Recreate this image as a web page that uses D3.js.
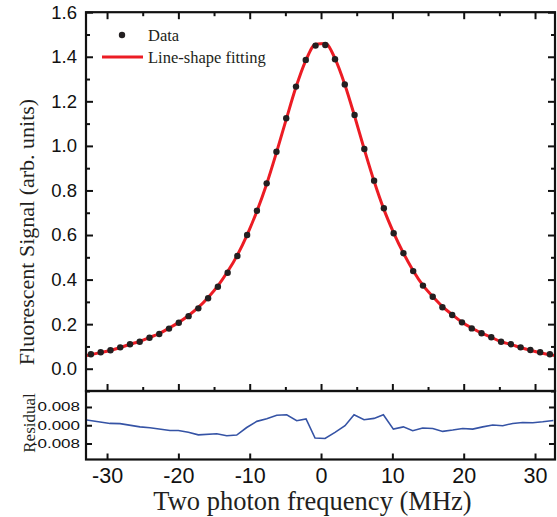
<!DOCTYPE html>
<meta charset="utf-8">
<script src="https://d3js.org/d3.v7.min.js"></script>
<style>
  body { margin: 0; background: #fff; }
</style>
<div id="chart"></div>
<script>

// data
var freq = [-32.26, -30.89, -29.52, -28.15, -26.78, -25.42, -24.05, -22.68, -21.31, -19.94,
            -18.57, -17.20, -15.83, -14.46, -13.09, -11.73, -10.36, -8.99, -7.62, -6.25,
            -4.88, -3.51, -2.14, -0.77, 0.60, 1.96, 3.33, 4.70, 6.07, 7.44,
            8.81, 10.18, 11.55, 12.92, 14.29, 15.66, 17.02, 18.39, 19.76, 21.13,
            22.50, 23.87, 25.24, 26.61, 27.98, 29.35, 30.72, 32.08]
var signal = [0.065, 0.074, 0.083, 0.096, 0.110, 0.121, 0.139, 0.156, 0.180, 0.206,
              0.236, 0.271, 0.316, 0.368, 0.431, 0.506, 0.600, 0.709, 0.832, 0.974,
              1.124, 1.266, 1.386, 1.450, 1.453, 1.389, 1.276, 1.139, 0.986, 0.844,
              0.720, 0.608, 0.518, 0.438, 0.373, 0.323, 0.276, 0.241, 0.208, 0.181,
              0.159, 0.141, 0.121, 0.110, 0.096, 0.084, 0.074, 0.065]

var fitFreq = [-33].concat(freq, [33])
var fitSignal = [0.059, 0.063, 0.073, 0.082, 0.095, 0.110, 0.122, 0.140, 0.158, 0.182, 0.208,
                 0.239, 0.275, 0.320, 0.372, 0.436, 0.510, 0.601, 0.707, 0.829, 0.970,
                 1.119, 1.264, 1.383, 1.456, 1.459, 1.392, 1.276, 1.134, 0.984, 0.841,
                 0.715, 0.610, 0.519, 0.440, 0.374, 0.324, 0.279, 0.243, 0.209, 0.183,
                 0.160, 0.141, 0.121, 0.109, 0.095, 0.083, 0.072, 0.063, 0.059]

var residFreq = [-32.85, -29.58, -28.18, -25.38, -23.98, -21.18, -20.0, -18.6, -17.2, -14.62,
                 -13.22, -11.82, -10.42, -9.01, -7.61, -6.21, -4.81, -3.41, -2.1, -0.84,
                 0.56, 1.96, 3.36, 4.63, 6.03, 7.43, 8.74, 10.14, 11.54, 12.85,
                 14.25, 15.66, 17.06, 18.46, 19.86, 21.26, 22.67, 24.07, 25.47, 26.87,
                 28.27, 29.68, 31.08, 32.57]
var residual = [0.0023, 0.0008, 0.0007, -0.0007, -0.0011, -0.0023, -0.0023, -0.0031, -0.0042, -0.0037,
                -0.0046, -0.0043, -0.0010, 0.0017, 0.0028, 0.0044, 0.0046, 0.0020, 0.0028, -0.0056,
                -0.0058, -0.0031, -0.0002, 0.0046, 0.0024, 0.0030, 0.0046, -0.0017, -0.0007, -0.0024,
                -0.0012, -0.0014, -0.0027, -0.0021, -0.0014, -0.0017, -0.0007, 0.0001, -0.0002, 0.0008,
                0.0012, 0.0011, 0.0015, 0.0021]

var xTicks = [-30, -20, -10, 0, 10, 20, 30]
var xMinor = [-25, -15, -5, 5, 15, 25]
var yTicks = [0, 0.2, 0.4, 0.6, 0.8, 1.0, 1.2, 1.4, 1.6]
var yMinor = [-0.1, 0.1, 0.3, 0.5, 0.7, 0.9, 1.1, 1.3, 1.5]
var residTicks = [-0.008, 0, 0.008]

// layout
var width = 557, height = 517
var plotLeft = 86, plotRight = 555, plotTop = 12.2, plotMid = 391, plotBottom = 459.5

var svg = d3.select("#chart").append("svg")
  .attr("width", width)
  .attr("height", height)

var x = d3.scaleLinear().domain([-32.95, 32.8]).range([plotLeft, plotRight])
var y = d3.scaleLinear().domain([-0.1, 1.6]).range([plotMid, plotTop])
var yr = d3.scaleLinear().domain([-0.015, 0.015]).range([plotBottom, plotMid])

svg.append("clipPath").attr("id", "clipMain")
  .append("rect").attr("x", plotLeft).attr("y", plotTop)
  .attr("width", plotRight - plotLeft).attr("height", plotMid - plotTop)
svg.append("clipPath").attr("id", "clipRes")
  .append("rect").attr("x", plotLeft).attr("y", plotMid)
  .attr("width", plotRight - plotLeft).attr("height", plotBottom - plotMid)

// helper for inward ticks
function drawAxis(axis, tx, ty) {
  var g = svg.append("g")
    .attr("transform", "translate(" + tx + "," + ty + ")")
    .call(axis)
  g.select(".domain").remove()
  g.selectAll("line").attr("stroke", "#111").attr("stroke-width", 2)
  return g
}

var noLabel = function() { return "" }

// main panel ticks
drawAxis(d3.axisTop(x).tickValues(xTicks).tickSize(-7).tickFormat(noLabel), 0, plotTop)
drawAxis(d3.axisTop(x).tickValues(xMinor).tickSize(-4).tickFormat(noLabel), 0, plotTop)
drawAxis(d3.axisBottom(x).tickValues(xTicks).tickSize(-7).tickFormat(noLabel), 0, plotMid)
drawAxis(d3.axisBottom(x).tickValues(xMinor).tickSize(-4).tickFormat(noLabel), 0, plotMid)
drawAxis(d3.axisRight(y).tickValues(yTicks).tickSize(-7).tickFormat(noLabel), plotRight, 0)
drawAxis(d3.axisRight(y).tickValues(yMinor).tickSize(-4).tickFormat(noLabel), plotRight, 0)
drawAxis(d3.axisLeft(y).tickValues(yMinor).tickSize(-4).tickFormat(noLabel), plotLeft, 0)

var yAxisG = drawAxis(d3.axisLeft(y).tickValues(yTicks).tickSize(-7).tickPadding(9)
  .tickFormat(function(d) { return d.toFixed(1) }), plotLeft, 0)
yAxisG.selectAll("text")
  .style("font-family", "'Liberation Sans', Arial, sans-serif")
  .style("font-size", "18.5px")
  .attr("fill", "#111")

// residual panel ticks
drawAxis(d3.axisRight(yr).tickValues(residTicks).tickSize(-6).tickFormat(noLabel), plotRight, 0)
drawAxis(d3.axisBottom(x).tickValues(xTicks).tickSize(-6).tickFormat(noLabel), 0, plotBottom)

var rAxisG = drawAxis(d3.axisLeft(yr).tickValues(residTicks).tickSize(-6).tickPadding(6)
  .tickFormat(function(d) { return d.toFixed(3) }), plotLeft, 0)
rAxisG.selectAll("text")
  .style("font-family", "'Liberation Sans', Arial, sans-serif")
  .style("font-size", "12.5px")
  .attr("fill", "#111")
  .attr("lengthAdjust", "spacingAndGlyphs")
  .attr("textLength", function() { return this.getComputedTextLength() * 1.36 })

var xAxisG = drawAxis(d3.axisBottom(x).tickValues(xTicks).tickSize(0).tickPadding(8.5)
  .tickFormat(function(d) { return String(d) }), 0, plotBottom)
xAxisG.selectAll("text")
  .style("font-family", "'Liberation Sans', Arial, sans-serif")
  .style("font-size", "21.5px")
  .attr("fill", "#111")

// fitted line
svg.append("path")
  .datum(fitFreq.map(function(f, i) { return [f, fitSignal[i]] }))
  .attr("clip-path", "url(#clipMain)")
  .attr("fill", "none")
  .attr("stroke", "#ec1c24")
  .attr("stroke-width", 3)
  .attr("d", d3.line()
    .x(function(d) { return x(d[0]) })
    .y(function(d) { return y(d[1]) })
    .curve(d3.curveMonotoneX))

// data points
svg.append("g")
  .selectAll("circle")
  .data(freq.map(function(f, i) { return [f, signal[i]] }))
  .enter()
  .append("circle")
    .attr("cx", function(d) { return x(d[0]) })
    .attr("cy", function(d) { return y(d[1]) })
    .attr("r", 3.2)
    .attr("fill", "#231f20")

// residual
svg.append("path")
  .datum(residFreq.map(function(f, i) { return [f, residual[i]] }))
  .attr("clip-path", "url(#clipRes)")
  .attr("fill", "none")
  .attr("stroke", "#3553a5")
  .attr("stroke-width", 1.6)
  .attr("d", d3.line()
    .x(function(d) { return x(d[0]) })
    .y(function(d) { return yr(d[1]) }))

// panel frames
svg.append("rect")
  .attr("x", plotLeft).attr("y", plotTop)
  .attr("width", plotRight - plotLeft).attr("height", plotMid - plotTop)
  .attr("fill", "none").attr("stroke", "#111").attr("stroke-width", 2.2)
svg.append("rect")
  .attr("x", plotLeft).attr("y", plotMid)
  .attr("width", plotRight - plotLeft).attr("height", plotBottom - plotMid)
  .attr("fill", "none").attr("stroke", "#111").attr("stroke-width", 2.2)

// legend
var serif = "'Liberation Serif', 'Times New Roman', serif"
svg.append("circle").attr("cx", 122).attr("cy", 35).attr("r", 3.2).attr("fill", "#231f20")
svg.append("text").attr("x", 148).attr("y", 40.5).text("Data")
  .style("font-family", serif).style("font-size", "16.5px").attr("fill", "#231f20")
svg.append("line").attr("x1", 102).attr("x2", 143).attr("y1", 57).attr("y2", 57)
  .attr("stroke", "#ec1c24").attr("stroke-width", 3)
svg.append("text").attr("x", 148).attr("y", 62.5).text("Line-shape fitting")
  .style("font-family", serif).style("font-size", "16.5px").attr("fill", "#231f20")

// axis titles
svg.append("text")
  .attr("transform", "translate(33.5,232) rotate(-90)")
  .attr("text-anchor", "middle")
  .style("font-family", serif).style("font-size", "22px").attr("fill", "#231f20")
  .text("Fluorescent Signal (arb. units)")
svg.append("text")
  .attr("transform", "translate(34.5,423) rotate(-90)")
  .attr("text-anchor", "middle")
  .style("font-family", serif).style("font-size", "17px").attr("fill", "#231f20")
  .text("Residual")
svg.append("text")
  .attr("x", 312.5).attr("y", 510)
  .attr("text-anchor", "middle")
  .style("font-family", serif).style("font-size", "26.5px").attr("fill", "#231f20")
  .text("Two photon frequency (MHz)")

</script>
